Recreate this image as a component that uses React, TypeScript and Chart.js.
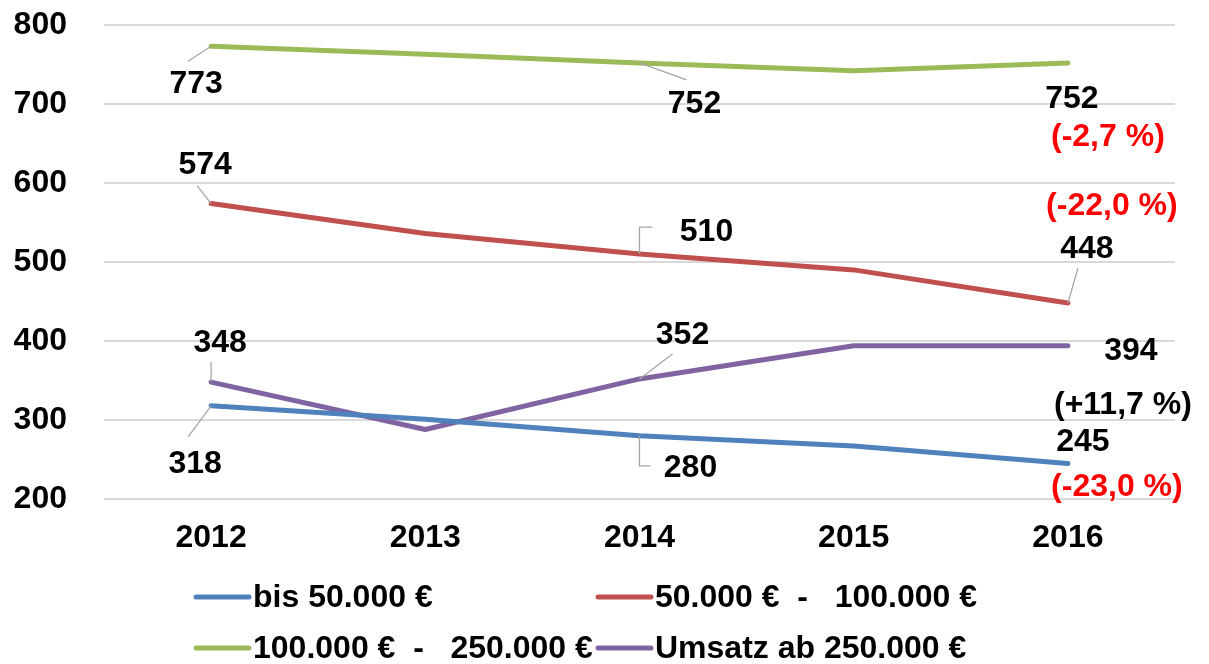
import React, { useEffect, useRef } from "react";
import { Chart, registerables } from "chart.js";

Chart.register(...registerables);

// ---- data ----
const years = ["2012", "2013", "2014", "2015", "2016"];
const bis50k = [318, 301, 280, 267, 245];
const k50to100 = [574, 536, 510, 490, 448];
const k100to250 = [773, 763, 752, 742, 752];
const ab250k = [348, 288, 352, 394, 394];
const seriesNames = [
  "bis 50.000 €",
  "50.000 €  -   100.000 €",
  "100.000 €  -   250.000 €",
  "Umsatz ab 250.000 €",
];
const changeLabels = ["(-23,0 %)", "(-22,0 %)", "(-2,7 %)", "(+11,7 %)"];
const yMin = 200;
const yMax = 800;
const yStep = 100;

// ---- styles ----
const colors = ["#4f81bd", "#c0504d", "#9bbb59", "#8064a2"];
const changeColors = ["#ff0000", "#ff0000", "#ff0000", "#000000"];
const FONT = "'Liberation Sans', Arial, Helvetica, sans-serif";
const FSIZE = 32;
const TEXT_SHIFT = 2;

// label placement: offsets relative to the data point (pixels)
type Placement = { ds: number; idx: number; dx: number; dy: number; leader?: number[][] };
const valuePlacements: Placement[] = [
  { ds: 2, idx: 0, dx: -15, dy: 36, leader: [[-23, 15]] },
  { ds: 2, idx: 2, dx: 55, dy: 39, leader: [[47, 17]] },
  { ds: 2, idx: 4, dx: 4, dy: 34 },
  { ds: 1, idx: 0, dx: -6, dy: -40, leader: [[-14, -18]] },
  { ds: 1, idx: 2, dx: 67, dy: -24, leader: [[0, -27], [13, -27]] },
  { ds: 1, idx: 4, dx: 19, dy: -56, leader: [[10, -35]] },
  { ds: 3, idx: 0, dx: 9, dy: -41, leader: [[0, -20]] },
  { ds: 3, idx: 2, dx: 43, dy: -46, leader: [[33, -25]] },
  { ds: 3, idx: 4, dx: 63, dy: 3 },
  { ds: 0, idx: 0, dx: -16, dy: 56, leader: [[-23, 31]] },
  { ds: 0, idx: 2, dx: 51, dy: 30, leader: [[0, 30], [11, 30]] },
  { ds: 0, idx: 4, dx: 15, dy: -23 },
];
const changePlacements = [
  { dx: 49, dy: 22 },
  { dx: 44, dy: -99 },
  { dx: 40, dy: 72 },
  { dx: 55, dy: 57 },
];
const legendCols = [196, 598];
const legendRows = [597, 648];

const labelPlugin = {
  id: "customLabels",
  afterDatasetsDraw(chart: any) {
    const ctx = chart.ctx;
    ctx.save();
    ctx.font = `bold ${FSIZE}px ${FONT}`;
    ctx.textAlign = "center";
    ctx.textBaseline = "middle";
    for (const p of valuePlacements) {
      const el = chart.getDatasetMeta(p.ds).data[p.idx];
      const x = el.x;
      const y = el.y;
      if (p.leader) {
        ctx.strokeStyle = "#a6a6a6";
        ctx.lineWidth = 1.3;
        ctx.beginPath();
        ctx.moveTo(x, y);
        for (const [dx, dy] of p.leader) ctx.lineTo(x + dx, y + dy);
        ctx.stroke();
      }
      ctx.fillStyle = "#000";
      ctx.fillText(String(chart.data.datasets[p.ds].data[p.idx]), x + p.dx, y + p.dy + TEXT_SHIFT);
    }
    changePlacements.forEach((c, ds) => {
      const meta = chart.getDatasetMeta(ds);
      const el = meta.data[meta.data.length - 1];
      ctx.fillStyle = changeColors[ds];
      ctx.fillText(changeLabels[ds], el.x + c.dx, el.y + c.dy + TEXT_SHIFT);
    });
    ctx.restore();
  },
  afterDraw(chart: any) {
    const ctx = chart.ctx;
    ctx.save();
    ctx.font = `bold ${FSIZE}px ${FONT}`;
    ctx.textAlign = "left";
    ctx.textBaseline = "middle";
    seriesNames.forEach((name, i) => {
      const col = i % 2;
      const row = Math.floor(i / 2);
      const x = legendCols[col];
      const y = legendRows[row];
      ctx.strokeStyle = colors[i];
      ctx.lineWidth = 5;
      ctx.lineCap = "round";
      ctx.beginPath();
      ctx.moveTo(x, y);
      ctx.lineTo(x + 53, y);
      ctx.stroke();
      ctx.fillStyle = "#000";
      ctx.fillText(name, x + 57, y + 1);
    });
    ctx.restore();
  },
};

export default function App() {
  const ref = useRef<HTMLCanvasElement>(null);
  useEffect(() => {
    document.body.style.margin = "0";
    const canvas = ref.current!;
    const seriesData = [bis50k, k50to100, k100to250, ab250k];
    const chart = new Chart(canvas, {
      type: "line",
      data: {
        labels: years,
        datasets: seriesData.map((d, i) => ({
          label: seriesNames[i],
          data: d,
          borderColor: colors[i],
          backgroundColor: colors[i],
          borderWidth: 5,
          borderCapStyle: "round",
          borderJoinStyle: "round",
          pointRadius: 0,
          tension: 0,
          fill: false,
        })),
      },
      options: {
        animation: false,
        responsive: false,
        events: [],
        layout: { padding: { top: 25, right: 34, left: 0, bottom: 0 } },
        plugins: {
          legend: { display: false },
          tooltip: { enabled: false },
        },
        scales: {
          x: {
            offset: true,
            grid: { display: false, drawTicks: false },
            border: { display: false },
            ticks: {
              color: "#000",
              font: { family: FONT, size: FSIZE, weight: "bold" },
              padding: 20,
              maxRotation: 0,
            },
            afterFit: (s: any) => {
              s.height = 165;
              s.paddingLeft = 0;
              s.paddingRight = 0;
            },
          },
          y: {
            min: yMin,
            max: yMax,
            grid: { color: "#d9d9d9", lineWidth: 2, drawTicks: false },
            border: { display: false },
            ticks: {
              stepSize: yStep,
              color: "#000",
              font: { family: FONT, size: FSIZE, weight: "bold" },
              padding: 37,
            },
            afterFit: (s: any) => {
              s.width = 104;
              s.paddingTop = 0;
              s.paddingBottom = 0;
            },
          },
        },
      },
      plugins: [labelPlugin],
    } as any);
    return () => chart.destroy();
  }, []);
  return (
    <div style={{ position: "relative", width: 1209, height: 664 }}>
      <canvas ref={ref} width={1209} height={664} style={{ display: "block" }} />
    </div>
  );
}
